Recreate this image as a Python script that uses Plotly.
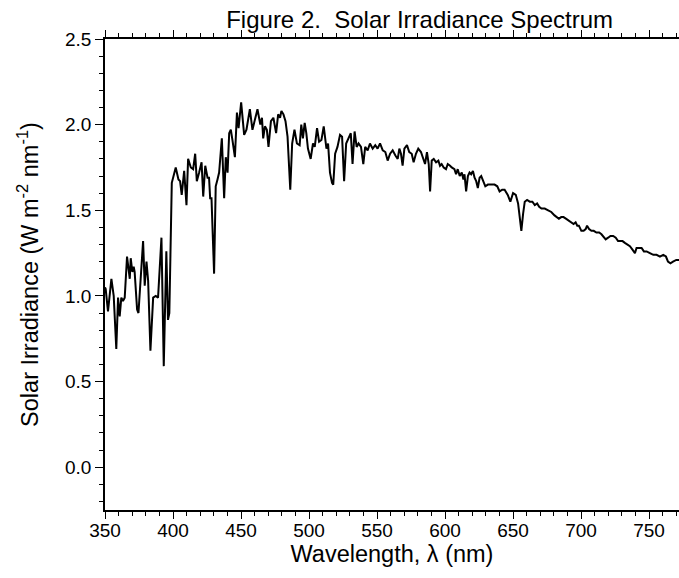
import plotly.graph_objects as go

wavelength = [
    350.0, 350.5, 352.2, 354.7, 356.4, 358.3, 359.6, 360.8, 362.0, 363.2, 364.5, 366.2, 368.2, 368.9,
    370.1, 371.1, 371.8, 373.6, 374.6, 376.0, 378.0, 379.2, 380.5, 381.7, 383.4, 385.4, 387.3, 389.0,
    391.5, 393.2, 395.1, 396.3, 397.3, 399.1, 400.8, 402.0, 404.0, 405.2, 406.4, 408.2, 409.9, 411.1,
    413.1, 414.8, 416.3, 417.5, 419.2, 421.0, 422.2, 423.7, 425.4, 426.5, 427.3, 428.3, 430.2, 431.4,
    432.7, 433.9, 435.9, 437.6, 438.8, 440.1, 441.3, 442.5, 443.7, 445.5, 447.0, 448.2, 450.1, 452.3,
    454.0, 456.5, 458.4, 460.4, 462.1, 464.2, 465.4, 466.3, 467.6, 469.0, 470.2, 472.0, 473.8, 475.8,
    477.3, 478.7, 479.7, 481.2, 482.7, 484.2, 486.2, 487.6, 489.3, 491.1, 493.1, 494.3, 495.5, 496.8,
    498.0, 499.2, 501.2, 502.9, 504.2, 505.9, 507.4, 509.1, 510.8, 512.8, 514.0, 515.4, 516.9, 517.8,
    519.2, 520.9, 522.8, 524.3, 525.8, 527.3, 529.2, 530.7, 532.0, 533.5, 535.0, 536.4, 538.2, 539.9,
    541.3, 543.1, 544.8, 546.8, 548.7, 550.4, 552.2, 554.2, 556.1, 557.8, 559.6, 561.5, 563.5, 565.2,
    566.4, 567.6, 568.8, 570.1, 572.0, 573.7, 575.5, 576.9, 578.6, 580.3, 582.3, 583.8, 585.3, 586.7,
    588.0, 589.0, 590.2, 591.7, 593.4, 595.1, 596.3, 597.5, 599.0, 600.7, 602.0, 603.7, 604.9, 606.9,
    608.1, 609.3, 610.8, 612.3, 613.5, 614.3, 615.5, 616.8, 618.0, 619.2, 620.5, 621.7, 622.9, 624.1,
    625.4, 626.6, 627.8, 629.6, 631.5, 634.0, 636.4, 638.4, 640.1, 642.0, 643.8, 646.1, 648.0, 650.0,
    652.0, 653.7, 654.9, 656.1, 657.4, 658.6, 660.3, 662.3, 664.2, 666.0, 667.7, 669.2, 670.9, 673.3,
    675.8, 678.1, 680.5, 682.3, 683.7, 685.4, 687.1, 689.1, 691.1, 692.8, 694.5, 696.0, 697.2, 698.4,
    700.2, 701.9, 703.4, 704.4, 705.9, 707.6, 709.3, 711.3, 713.3, 715.0, 716.7, 718.1, 719.9, 721.6,
    723.6, 725.5, 727.2, 728.5, 730.5, 732.2, 733.9, 735.9, 737.8, 739.6, 740.8, 742.8, 744.5, 746.2,
    748.2, 750.6, 753.1, 755.5, 758.0, 760.4, 762.4, 763.9, 765.7, 767.6, 770.0, 772.0,
]

irradiance = [
    1.05, 1.04, 0.91, 1.10, 1.00, 0.69, 0.99, 0.88, 0.99, 0.97, 0.99, 1.23, 1.10, 1.22,
    1.14, 1.17, 1.14, 0.92, 0.90, 1.06, 1.32, 1.06, 1.20, 1.09, 0.68, 0.99, 1.00, 0.99,
    1.34, 0.59, 1.26, 0.86, 0.90, 1.66, 1.72, 1.75, 1.68, 1.67, 1.59, 1.73, 1.53, 1.80,
    1.75, 1.74, 1.83, 1.67, 1.72, 1.78, 1.58, 1.76, 1.69, 1.69, 1.57, 1.57, 1.13, 1.64,
    1.68, 1.72, 1.92, 1.57, 1.81, 1.72, 1.95, 1.97, 1.91, 1.81, 2.07, 1.98, 2.13, 1.94,
    1.97, 2.09, 1.97, 2.03, 2.09, 2.00, 2.04, 1.92, 1.99, 1.97, 1.87, 2.02, 2.04, 1.95,
    2.06, 2.04, 2.08, 2.06, 2.02, 1.93, 1.62, 1.89, 1.97, 1.89, 1.88, 2.00, 1.92, 2.01,
    1.95, 1.86, 1.80, 1.89, 1.87, 1.98, 1.90, 1.91, 1.99, 1.86, 1.89, 1.72, 1.66, 1.65,
    1.83, 1.87, 1.94, 1.93, 1.67, 1.89, 1.92, 1.95, 1.77, 1.96, 1.87, 1.89, 1.87, 1.77,
    1.87, 1.85, 1.89, 1.86, 1.88, 1.86, 1.89, 1.85, 1.84, 1.79, 1.83, 1.85, 1.82, 1.80,
    1.86, 1.83, 1.76, 1.86, 1.88, 1.84, 1.83, 1.78, 1.83, 1.86, 1.84, 1.81, 1.77, 1.84,
    1.77, 1.61, 1.79, 1.80, 1.78, 1.79, 1.76, 1.77, 1.75, 1.74, 1.77, 1.76, 1.75, 1.74,
    1.71, 1.74, 1.70, 1.72, 1.68, 1.71, 1.61, 1.70, 1.72, 1.71, 1.73, 1.69, 1.67, 1.63,
    1.69, 1.70, 1.68, 1.64, 1.65, 1.65, 1.65, 1.64, 1.61, 1.62, 1.62, 1.59, 1.55, 1.60,
    1.59, 1.54, 1.46, 1.38, 1.48, 1.55, 1.56, 1.55, 1.55, 1.53, 1.54, 1.52, 1.51, 1.51,
    1.50, 1.49, 1.47, 1.46, 1.45, 1.46, 1.46, 1.45, 1.44, 1.43, 1.42, 1.43, 1.41, 1.41,
    1.38, 1.38, 1.39, 1.41, 1.39, 1.38, 1.38, 1.37, 1.37, 1.36, 1.34, 1.33, 1.34, 1.35,
    1.35, 1.34, 1.32, 1.32, 1.32, 1.31, 1.30, 1.29, 1.27, 1.25, 1.28, 1.28, 1.28, 1.26,
    1.26, 1.25, 1.24, 1.24, 1.23, 1.24, 1.23, 1.20, 1.19, 1.20, 1.21, 1.21,
]

x_ticks = [350, 400, 450, 500, 550, 600, 650, 700, 750]
y_ticks = [0.0, 0.5, 1.0, 1.5, 2.0, 2.5]

font_family = "Liberation Sans, Arial, sans-serif"

fig = go.Figure()
fig.add_trace(go.Scatter(
    x=wavelength, y=irradiance, mode="lines",
    line=dict(color="black", width=2),
    showlegend=False,
))

fig.update_layout(
    width=679, height=578,
    margin=dict(l=105, r=0, t=39, b=68, autoexpand=False),
    paper_bgcolor="white", plot_bgcolor="white",
    font=dict(family=font_family, color="black", size=19),
    title=dict(
        text="Figure 2.&nbsp; Solar Irradiance Spectrum",
        x=0.618, xref="container", xanchor="center",
        y=0.966, yref="container", yanchor="middle",
        font=dict(size=24, color="black", family=font_family),
    ),
)

fig.update_xaxes(
    range=[350, 772], automargin=False,
    tickvals=x_ticks, ticktext=[str(v) for v in x_ticks],
    ticks="outside", ticklen=7, tickwidth=1.3, tickcolor="black",
    minor=dict(dtick=10, tick0=350, ticks="outside", ticklen=4, tickwidth=1.3, tickcolor="black"),
    showline=True, linecolor="black", linewidth=1.5, mirror="ticks",
    showgrid=False, zeroline=False,
    tickfont=dict(size=19), ticklabelstandoff=-5,
    title=dict(text="Wavelength, λ (nm)", font=dict(size=23.5), standoff=5),
)

fig.update_yaxes(
    range=[-0.25, 2.5], automargin=False,
    tickvals=y_ticks, ticktext=[f"{v:.1f}" for v in y_ticks],
    ticks="outside", ticklen=8, tickwidth=1.3, tickcolor="black",
    minor=dict(dtick=0.1, tick0=0, ticks="outside", ticklen=4, tickwidth=1.3, tickcolor="black"),
    showline=True, linecolor="black", linewidth=1.5, mirror=False,
    showgrid=False, zeroline=False,
    tickfont=dict(size=19),
    title=dict(text="Solar Irradiance (W m<sup>-2</sup> nm<sup>-1</sup>)", font=dict(size=23.5), standoff=20),
)

fig.write_html(
    "out.html",
    config={"displayModeBar": False},
    post_script="document.body.style.margin='0';document.body.style.overflow='hidden';",
)
